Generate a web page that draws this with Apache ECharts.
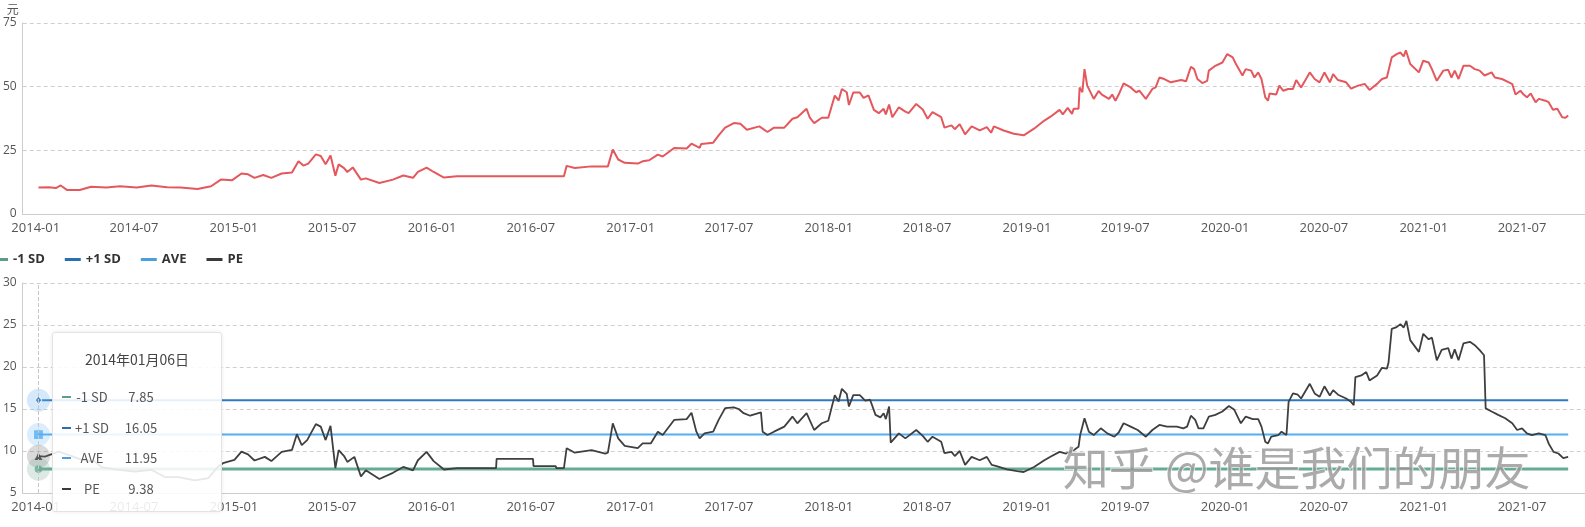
<!DOCTYPE html>
<html>
<head>
<meta charset="utf-8">
<script src="https://cdn.jsdelivr.net/npm/echarts@6/dist/echarts.min.js"></script>
<style>
html,body{margin:0;padding:0;background:#fff;}
#chart{width:1585px;height:527px;}
</style>
</head>
<body>
<div id="chart"></div>
<script>
// ---------------- DATA ----------------
const priceData = [
['2014-01-06',10.4],['2014-01-25',10.5],['2014-02-07',10.2],['2014-02-16',11.2],['2014-02-28',9.4],['2014-03-23',9.4],['2014-04-13',10.7],['2014-05-11',10.4],['2014-06-05',10.9],['2014-07-06',10.4],['2014-08-02',11.2],['2014-08-31',10.5],['2014-09-25',10.4],['2014-10-26',9.8],['2014-11-20',10.9],['2014-12-08',13.5],['2014-12-29',13.3],
['2015-01-15',15.9],['2015-01-27',15.6],['2015-02-08',14.2],['2015-02-24',15.3],['2015-03-11',14.2],['2015-03-30',15.9],['2015-04-18',16.3],['2015-04-30',20.7],['2015-05-09',19.0],['2015-05-18',19.8],['2015-06-01',23.4],['2015-06-10',22.8],['2015-06-19',19.5],['2015-06-28',23.0],['2015-07-07',15.0],['2015-07-13',19.5],['2015-07-23',18.0],['2015-07-29',16.5],['2015-08-08',18.3],['2015-08-23',13.5],['2015-09-01',14.0],['2015-09-26',12.2],['2015-10-21',13.5],['2015-11-09',15.1],['2015-11-27',14.2],['2015-12-06',16.5],['2015-12-22',18.2],
['2016-01-04',16.5],['2016-01-23',14.3],['2016-02-16',14.8],['2016-08-31',14.8],['2016-09-05',18.9],['2016-09-20',18.1],['2016-10-21',18.7],['2016-11-20',18.7],['2016-11-29',25.3],['2016-12-09',21.4],['2016-12-21',20.1],
['2017-01-14',19.8],['2017-01-23',20.7],['2017-02-04',21.1],['2017-02-20',23.3],['2017-03-01',22.6],['2017-03-22',25.9],['2017-04-14',25.7],['2017-04-23',27.6],['2017-05-08',26.0],['2017-05-11',27.5],['2017-06-02',28.0],['2017-06-12',30.9],['2017-06-24',33.9],['2017-07-10',35.7],['2017-07-22',35.4],['2017-08-03',33.1],['2017-08-26',34.4],['2017-09-10',32.2],['2017-09-22',33.9],['2017-10-11',33.9],['2017-10-26',37.4],['2017-11-04',38.0],['2017-11-12',39.6],['2017-11-21',41.3],['2017-11-27',37.8],['2017-12-05',35.7],['2017-12-19',37.8],['2017-12-31',37.8],
['2018-01-12',46.5],['2018-01-19',44.6],['2018-01-25',49.1],['2018-02-03',47.8],['2018-02-07',42.8],['2018-02-15',47.7],['2018-02-27',47.7],['2018-03-06',45.6],['2018-03-15',46.6],['2018-03-25',40.9],['2018-04-03',39.6],['2018-04-12',41.3],['2018-04-16',39.1],['2018-04-22',43.0],['2018-04-28',38.0],['2018-05-10',41.9],['2018-05-22',40.2],['2018-05-28',39.6],['2018-06-11',43.2],['2018-06-23',41.0],['2018-07-02',37.4],['2018-07-11',40.0],['2018-07-27',38.0],['2018-08-02',33.9],['2018-08-15',34.8],['2018-08-21',33.3],['2018-08-30',35.3],['2018-09-09',31.3],['2018-09-21',34.4],['2018-10-06',32.8],['2018-10-19',34.1],['2018-10-27',31.9],['2018-11-01',34.4],['2018-11-19',32.8],['2018-12-08',31.5],['2018-12-26',30.9],
['2019-01-14',33.5],['2019-02-02',36.7],['2019-02-14',38.3],['2019-03-02',40.9],['2019-03-08',39.1],['2019-03-17',41.7],['2019-03-25',39.3],['2019-03-28',41.3],['2019-04-06',41.3],['2019-04-08',49.7],['2019-04-13',47.8],['2019-04-17',56.9],['2019-04-22',50.4],['2019-05-04',45.2],['2019-05-13',48.3],['2019-05-19',46.9],['2019-06-01',45.2],['2019-06-07',46.9],['2019-06-13',44.5],['2019-06-19',46.9],['2019-06-28',51.3],['2019-07-11',49.7],['2019-07-21',47.8],['2019-07-27',48.4],['2019-08-08',45.2],['2019-08-20',49.1],['2019-08-26',49.7],['2019-09-02',53.6],['2019-09-11',53.0],['2019-09-23',51.7],['2019-10-12',52.6],['2019-10-21',52.1],['2019-10-24',51.7],['2019-10-30',57.8],['2019-11-05',56.9],['2019-11-11',53.0],['2019-11-20',51.4],['2019-11-29',52.3],['2019-12-02',56.3],['2019-12-14',58.2],['2019-12-27',59.5],
['2020-01-05',62.8],['2020-01-15',61.5],['2020-01-21',58.9],['2020-02-02',54.4],['2020-02-08',56.9],['2020-02-18',56.3],['2020-02-24',53.6],['2020-03-02',55.6],['2020-03-08',53.0],['2020-03-15',45.8],['2020-03-20',44.5],['2020-03-23',47.3],['2020-04-04',46.9],['2020-04-10',50.4],['2020-04-17',48.4],['2020-04-26',49.1],['2020-05-05',49.1],['2020-05-11',52.6],['2020-05-20',49.7],['2020-06-05',55.6],['2020-06-14',53.0],['2020-06-23',51.7],['2020-07-02',55.6],['2020-07-12',51.7],['2020-07-18',54.9],['2020-07-27',52.6],['2020-08-11',51.7],['2020-08-20',49.2],['2020-09-02',50.4],['2020-09-14',51.1],['2020-09-23',48.7],['2020-10-07',51.1],['2020-10-16',53.0],['2020-10-25',53.6],['2020-11-03',61.5],['2020-11-12',62.8],['2020-11-19',63.4],['2020-11-25',61.9],['2020-11-29',64.3],['2020-12-07',58.9],['2020-12-23',55.6],['2020-12-31',60.2],
['2021-01-10',59.5],['2021-01-16',56.9],['2021-01-25',52.3],['2021-02-06',56.3],['2021-02-15',56.6],['2021-02-21',53.6],['2021-02-27',56.3],['2021-03-06',53.0],['2021-03-15',58.2],['2021-03-27',58.2],['2021-04-05',56.9],['2021-04-14',56.3],['2021-04-23',54.4],['2021-05-06',55.6],['2021-05-12',53.6],['2021-05-25',53.0],['2021-06-07',51.7],['2021-06-13',51.0],['2021-06-19',46.9],['2021-06-28',48.4],['2021-07-04',46.9],['2021-07-10',45.8],['2021-07-17',47.3],['2021-07-26',43.9],['2021-08-01',45.2],['2021-08-13',44.5],['2021-08-19',43.9],['2021-08-27',40.9],['2021-09-04',41.3],['2021-09-13',38.0],['2021-09-19',37.8],['2021-09-24',38.7]
];

const peData = [
['2014-01-06',9.38],['2014-01-18',9.34],['2014-02-12',9.93],['2014-03-02',9.54],['2014-03-27',8.95],['2014-04-20',8.75],['2014-05-02',8.08],['2014-06-02',7.76],['2014-07-03',7.56],['2014-08-02',7.76],['2014-08-27',6.9],['2014-09-21',6.9],['2014-10-21',6.5],['2014-11-15',6.78],['2014-12-03',8.15],['2014-12-12',8.55],
['2015-01-02',8.95],['2015-01-15',9.93],['2015-01-27',9.6],['2015-02-08',8.87],['2015-02-27',9.3],['2015-03-11',8.8],['2015-03-30',9.9],['2015-04-18',10.13],['2015-04-27',12.0],['2015-05-06',10.7],['2015-05-16',11.3],['2015-06-01',13.2],['2015-06-10',12.9],['2015-06-19',11.3],['2015-06-28',13.0],['2015-07-07',7.96],['2015-07-13',10.1],['2015-07-23',9.4],['2015-07-29',8.7],['2015-08-11',9.3],['2015-08-23',6.97],['2015-09-01',7.7],['2015-09-26',6.66],['2015-10-21',7.4],['2015-11-09',8.1],['2015-11-27',7.7],['2015-12-06',8.9],['2015-12-22',9.9],
['2016-01-04',8.8],['2016-01-23',7.8],['2016-02-16',7.96],['2016-04-28',7.96],['2016-04-29',9.06],['2016-07-05',9.06],['2016-07-06',8.2],['2016-08-16',8.2],['2016-08-17',7.95],['2016-08-31',7.95],['2016-09-05',10.33],['2016-09-20',9.8],['2016-10-21',10.1],['2016-11-15',9.7],['2016-11-20',9.8],['2016-11-29',13.3],['2016-12-09',11.5],['2016-12-21',10.6],
['2017-01-14',10.33],['2017-01-23',10.9],['2017-02-07',10.9],['2017-02-20',12.3],['2017-03-01',11.9],['2017-03-22',13.7],['2017-04-14',13.8],['2017-04-23',14.55],['2017-05-02',12.3],['2017-05-08',11.5],['2017-05-17',12.1],['2017-06-02',12.3],['2017-06-12',13.7],['2017-06-24',15.1],['2017-07-10',15.2],['2017-07-19',15.0],['2017-07-28',14.5],['2017-08-09',14.2],['2017-08-29',14.6],['2017-09-01',12.3],['2017-09-10',11.9],['2017-09-22',12.3],['2017-10-11',12.9],['2017-10-26',14.1],['2017-11-04',13.3],['2017-11-21',14.5],['2017-12-05',12.5],['2017-12-19',13.3],['2017-12-31',13.6],
['2018-01-12',16.65],['2018-01-19',15.9],['2018-01-25',17.4],['2018-02-03',16.8],['2018-02-07',15.3],['2018-02-15',16.65],['2018-02-27',16.65],['2018-03-09',16.0],['2018-03-18',16.1],['2018-03-28',14.3],['2018-04-06',14.0],['2018-04-12',14.5],['2018-04-16',13.8],['2018-04-22',15.3],['2018-04-25',11.0],['2018-05-10',12.1],['2018-05-22',11.5],['2018-06-11',12.5],['2018-06-23',11.8],['2018-07-02',11.1],['2018-07-11',11.7],['2018-07-27',11.1],['2018-08-02',9.74],['2018-08-15',9.9],['2018-08-21',9.4],['2018-08-30',10.0],['2018-09-09',8.35],['2018-09-21',9.3],['2018-10-06',8.9],['2018-10-19',9.3],['2018-10-28',8.35],['2018-11-06',8.2],['2018-11-25',7.8],['2018-12-14',7.6],['2018-12-26',7.5],
['2019-01-14',8.1],['2019-02-02',8.9],['2019-02-14',9.35],['2019-03-02',9.9],['2019-03-14',9.7],['2019-03-28',10.1],['2019-04-06',10.5],['2019-04-09',11.9],['2019-04-17',13.9],['2019-04-25',12.3],['2019-05-04',11.9],['2019-05-17',12.7],['2019-05-29',12.1],['2019-06-11',11.7],['2019-06-19',12.2],['2019-06-28',13.3],['2019-07-11',12.9],['2019-07-24',12.5],['2019-08-08',11.7],['2019-08-20',12.5],['2019-09-02',13.1],['2019-09-16',12.9],['2019-10-04',12.9],['2019-10-16',12.7],['2019-10-23',12.9],['2019-10-30',14.2],['2019-11-07',13.7],['2019-11-13',12.7],['2019-11-22',12.7],['2019-12-02',14.1],['2019-12-14',14.3],['2019-12-27',14.7],
['2020-01-08',15.35],['2020-01-18',14.9],['2020-01-30',13.3],['2020-02-08',14.1],['2020-02-21',13.8],['2020-03-02',13.8],['2020-03-08',12.9],['2020-03-15',11.1],['2020-03-20',10.9],['2020-03-26',11.7],['2020-04-08',11.9],['2020-04-14',12.3],['2020-04-23',11.9],['2020-04-27',15.85],['2020-05-05',16.85],['2020-05-14',16.7],['2020-05-20',16.25],['2020-06-05',18.0],['2020-06-14',16.85],['2020-06-23',16.45],['2020-07-02',17.7],['2020-07-12',16.6],['2020-07-18',17.25],['2020-07-27',16.7],['2020-08-11',16.25],['2020-08-20',15.85],['2020-08-25',15.45],['2020-08-28',18.8],['2020-09-08',19.0],['2020-09-17',19.4],['2020-09-23',18.4],['2020-10-07',19.0],['2020-10-16',19.9],['2020-10-25',19.8],['2020-10-28',20.5],['2020-11-03',24.55],['2020-11-12',24.75],['2020-11-19',25.1],['2020-11-25',24.7],['2020-11-30',25.5],['2020-12-07',23.2],['2020-12-23',21.8],['2020-12-31',23.95],
['2021-01-10',23.3],['2021-01-16',23.5],['2021-01-25',20.8],['2021-02-03',22.05],['2021-02-15',22.25],['2021-02-21',21.0],['2021-02-27',22.1],['2021-03-06',20.8],['2021-03-15',22.8],['2021-03-27',23.0],['2021-04-05',22.6],['2021-04-14',22.0],['2021-04-22',21.4],['2021-04-25',15.07],['2021-05-06',14.7],['2021-05-18',14.3],['2021-05-31',13.9],['2021-06-13',13.3],['2021-06-22',12.5],['2021-07-01',12.7],['2021-07-10',12.1],['2021-07-19',11.9],['2021-08-01',12.1],['2021-08-13',11.9],['2021-08-19',10.9],['2021-08-28',9.9],['2021-09-06',9.7],['2021-09-15',9.15],['2021-09-24',9.3]
];

const bandDates = ['2014-01-06', '2021-09-24'];
const minusOneSD = 7.85;
const plusOneSD = 16.05;
const aveValue = 11.95;
const seriesNames = ['-1 SD', '+1 SD', 'AVE', 'PE'];
const labelMonths = [0, 6]; // January and July tick labels
const priceAxisTicks = { min: 0, max: 75, interval: 25 };
const peAxisTicks = { min: 5, max: 30, interval: 5 };
const axisRange = { min: '2013-12-08', max: '2021-10-25' };
const focusDate = '2014-01-06';

// ---------------- STYLE ----------------
const C = {
  price: '#e4585d',
  minus: '#5e9c89',
  plus: '#2b6fae',
  ave: '#4c9fdc',
  pe: '#3a3a3a'
};
const FONT = '"Open Sans", "Noto Sans CJK SC", sans-serif';
const CJK = '"Noto Sans CJK SC", "Open Sans", sans-serif';

const bandSeries = (v) => bandDates.map(d => [d, v]);
const firstVal = peData[0][1];

function pad(n) { return (n < 10 ? '0' : '') + n; }

const chart = echarts.init(document.getElementById('chart'), null, { renderer: 'canvas' });

function xAxisCfg(gridIndex) {
  return {
    type: 'time', gridIndex: gridIndex,
    min: axisRange.min, max: axisRange.max,
    splitNumber: 30,
    axisLine: { show: true, lineStyle: { color: '#cccccc', width: 1 } },
    axisTick: { show: false },
    splitLine: { show: false },
    axisLabel: {
      formatter: function (v) {
        const d = new Date(v);
        if (d.getDate() !== 1 || labelMonths.indexOf(d.getMonth()) < 0) return '';
        return d.getFullYear() + '-' + pad(d.getMonth() + 1);
      },
      color: '#555', fontSize: 13, fontFamily: FONT, margin: 8,
      showMinLabel: false, showMaxLabel: false, hideOverlap: false
    },
    axisPointer: { show: gridIndex === 1, type: 'line', lineStyle: { color: '#c8c8c8', width: 1 }, label: { show: false } }
  };
}
function yAxisCfg(gridIndex, t, name) {
  return {
    type: 'value', gridIndex: gridIndex,
    min: t.min, max: t.max, interval: t.interval,
    name: name || '',
    nameLocation: 'end', nameGap: 8,
    nameTextStyle: { color: '#555', fontSize: 12, fontFamily: CJK, align: 'right', padding: [0, 4, 0, 0] },
    axisLine: { show: true, lineStyle: { color: '#cccccc', width: 1 } },
    axisTick: { show: false },
    splitLine: { show: true, lineStyle: { color: '#cfcfcf', type: [4, 3], width: 1 } },
    axisLabel: { color: '#555', fontSize: 12, fontFamily: FONT, margin: 6 },
    axisPointer: { show: false }
  };
}

const haloData = [
  { value: [focusDate, plusOneSD], itemStyle: { color: 'rgba(90,160,220,0.35)' } },
  { value: [focusDate, aveValue], itemStyle: { color: 'rgba(100,170,225,0.30)' } },
  { value: [focusDate, firstVal], itemStyle: { color: 'rgba(110,110,110,0.35)' } },
  { value: [focusDate, minusOneSD], itemStyle: { color: 'rgba(120,160,145,0.35)' } }
];
const markerData = [
  { value: [focusDate, plusOneSD], symbol: 'diamond', symbolSize: [6, 8], itemStyle: { color: C.plus, borderColor: '#fff', borderWidth: 1 } },
  { value: [focusDate, aveValue], symbol: 'rect', symbolSize: 8, itemStyle: { color: C.ave } },
  { value: [focusDate, firstVal], symbol: 'triangle', symbolSize: 7, itemStyle: { color: C.pe } },
  { value: [focusDate, minusOneSD], symbol: 'circle', symbolSize: 7, itemStyle: { color: C.minus } }
];

const option = {
  animation: false,
  backgroundColor: '#ffffff',
  textStyle: { fontFamily: FONT },
  grid: [
    { left: 21, right: 0, top: 23, height: 191, containLabel: false },
    { left: 21, right: 0, top: 283, height: 210, containLabel: false }
  ],
  legend: {
    data: seriesNames.map(n => ({ name: n, icon: 'rect' })),
    left: -13, top: 248,
    itemWidth: 16, itemHeight: 3, itemGap: 20,
    selectedMode: false,
    textStyle: { color: '#333', fontSize: 13, fontWeight: 'bold', fontFamily: FONT }
  },
  tooltip: {
    trigger: 'axis',
    triggerOn: 'none',
    alwaysShowContent: true,
    transitionDuration: 0,
    backgroundColor: 'rgba(255,255,255,0.88)',
    borderColor: '#e3e3e3',
    borderWidth: 1,
    padding: 0,
    extraCssText: 'box-shadow: 0 0 4px rgba(0,0,0,0.08); border-radius: 3px;',
    position: function () { return [52, 332]; },
    formatter: function (params) {
      const rows = params.filter(p => seriesNames.indexOf(p.seriesName) >= 0);
      rows.sort((a, b) => seriesNames.indexOf(a.seriesName) - seriesNames.indexOf(b.seriesName));
      const t = new Date(rows[0].axisValue);
      const title = t.getFullYear() + '年' + pad(t.getMonth() + 1) + '月' + pad(t.getDate()) + '日';
      let h = '<div style="position:relative;width:168px;height:178px;font-family:' + CJK.replace(/"/g, "'") + ';color:#555;">';
      h += '<div style="position:absolute;left:0;top:16px;width:168px;text-align:center;font-size:14px;line-height:20px;color:#444;">' + title + '</div>';
      rows.forEach(function (p, i) {
        const top = 56 + i * 30.6;
        h += '<div style="position:absolute;left:9px;top:' + (top + 7) + 'px;width:9px;height:2px;background:' + p.color + ';"></div>';
        h += '<div style="position:absolute;left:18px;top:' + top + 'px;width:42px;text-align:center;font-size:13px;line-height:16px;">' + p.seriesName + '</div>';
        h += '<div style="position:absolute;left:67px;top:' + top + 'px;width:42px;text-align:center;font-size:13px;line-height:16px;">' + Number(p.value[1]).toFixed(2) + '</div>';
      });
      h += '</div>';
      return h;
    }
  },
  axisPointer: { link: [] },
  xAxis: [xAxisCfg(0), xAxisCfg(1)],
  yAxis: [yAxisCfg(0, priceAxisTicks, '元'), yAxisCfg(1, peAxisTicks, '')],
  series: [
    {
      name: 'Price', type: 'line', xAxisIndex: 0, yAxisIndex: 0,
      data: priceData, symbol: 'none', showSymbol: false,
      lineStyle: { color: C.price, width: 2 }, itemStyle: { color: C.price }
    },
    {
      name: '-1 SD', type: 'line', xAxisIndex: 1, yAxisIndex: 1,
      data: bandSeries(minusOneSD), symbol: 'none', showSymbol: false,
      lineStyle: { color: C.minus, width: 3 }, itemStyle: { color: C.minus }
    },
    {
      name: '+1 SD', type: 'line', xAxisIndex: 1, yAxisIndex: 1,
      data: bandSeries(plusOneSD), symbol: 'none', showSymbol: false,
      lineStyle: { color: C.plus, width: 2 }, itemStyle: { color: C.plus }
    },
    {
      name: 'AVE', type: 'line', xAxisIndex: 1, yAxisIndex: 1,
      data: bandSeries(aveValue), symbol: 'none', showSymbol: false,
      lineStyle: { color: C.ave, width: 2 }, itemStyle: { color: C.ave }
    },
    {
      name: 'PE', type: 'line', xAxisIndex: 1, yAxisIndex: 1,
      data: peData, symbol: 'none', showSymbol: false,
      lineStyle: { color: C.pe, width: 1.8 }, itemStyle: { color: C.pe }, z: 3
    },
    {
      name: 'halo', type: 'scatter', xAxisIndex: 1, yAxisIndex: 1,
      data: haloData, symbol: 'circle', symbolSize: 21, silent: true, z: 4
    },
    {
      name: 'marker', type: 'scatter', xAxisIndex: 1, yAxisIndex: 1,
      data: markerData, silent: true, z: 5
    }
  ],
  graphic: [
    {
      type: 'text', left: 1062, top: 444, z: 100, silent: true,
      style: {
        text: '知乎 @谁是我们的朋友',
        font: '46px "Noto Sans CJK SC"',
        fill: 'rgba(150,150,150,0.8)',
        stroke: 'rgba(255,255,255,0.8)',
        lineWidth: 1.5
      }
    }
  ]
};

chart.setOption(option);
const pt = chart.convertToPixel({ xAxisIndex: 1, yAxisIndex: 1 }, [focusDate, 20]);
chart.dispatchAction({ type: 'showTip', x: pt[0], y: pt[1] });
</script>
</body>
</html>
